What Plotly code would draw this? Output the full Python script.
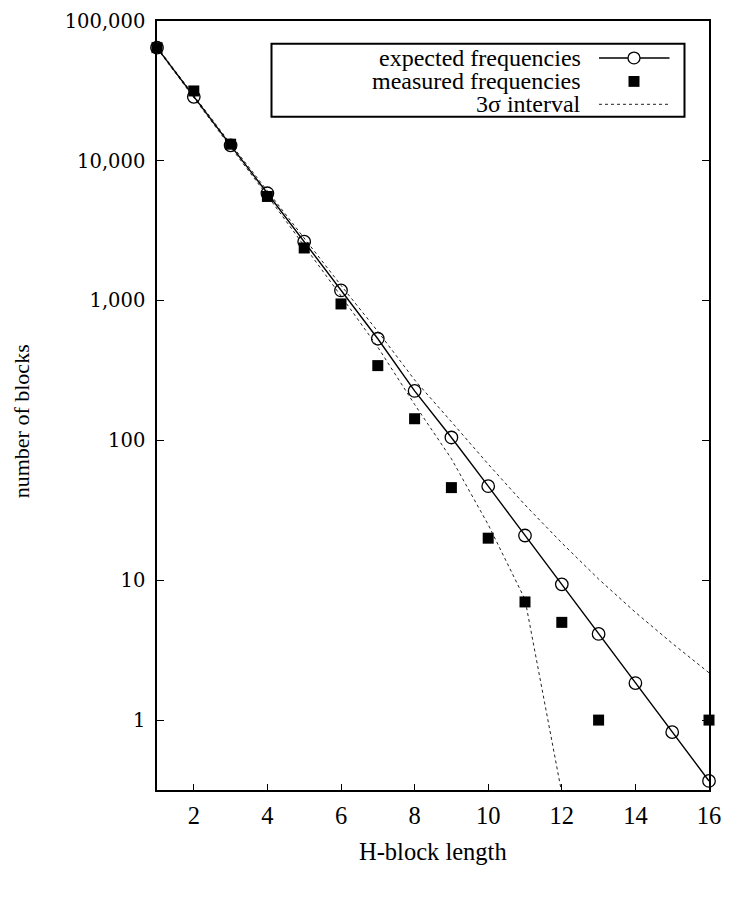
import plotly.graph_objects as go

# ---- data ----
block_length = list(range(1, 17))
expected = [64500, 28700, 12900, 5860, 2640, 1183, 534, 226, 105, 47.1, 20.9, 9.35, 4.13, 1.84, 0.82, 0.367]

measured_x = [1, 2, 3, 4, 5, 6, 7, 8, 9, 10, 11, 12, 13, 16]
measured = [64500, 31600, 13150, 5560, 2380, 947, 343, 143, 46, 20, 7, 5, 1, 1]

upper_x = list(range(1, 17))
upper_3sigma = [65260, 29210, 13240, 6090, 2794, 1286, 603, 271, 136, 67.7, 34.6, 18.5, 10.2, 5.9, 3.54, 2.18]

lower_x = list(range(1, 13))
lower_3sigma = [63740, 28190, 12560, 5630, 2486, 1080, 465, 181, 74, 25, 7.3, 0.3]

x_ticks = [2, 4, 6, 8, 10, 12, 14, 16]
y_ticks = [1, 10, 100, 1000, 10000, 100000]
y_ticktext = ["1", "10", "100", "1,000", "10,000", "100,000"]

legend_labels = ["expected frequencies", "measured frequencies", "3σ interval"]

SERIF = "Liberation Serif"

fig = go.Figure()

dot_line = dict(color="#222222", width=1, dash="dot")
fig.add_trace(go.Scatter(x=upper_x, y=upper_3sigma, mode="lines", line=dot_line, showlegend=False))
fig.add_trace(go.Scatter(x=lower_x, y=lower_3sigma, mode="lines", line=dot_line, showlegend=False))

fig.add_trace(go.Scatter(
    x=block_length, y=expected, mode="lines+markers",
    line=dict(color="black", width=1.4),
    marker=dict(symbol="circle-open", size=12.5, color="black", line=dict(width=1.3, color="black")),
    cliponaxis=False, showlegend=False))

fig.add_trace(go.Scatter(
    x=measured_x, y=measured, mode="markers",
    marker=dict(symbol="square", size=11, color="black"),
    cliponaxis=False, showlegend=False))

# page body has an 8px default margin: figure coordinates = screen coordinates - 8
OFF = 8
FW, FH = 750 - OFF, 899 - OFF
L, R, T, B = 157 - OFF, 709 - OFF, 10 - OFF, 790 - OFF
W, H = R - L, B - T
def px(x):
    return (x - OFF - L) / W
def py(y):
    return (B - (y - OFF)) / H

shapes = []
annotations = []
shapes.append(dict(type="rect", xref="paper", yref="paper",
                   x0=px(271.5), x1=px(684.5), y0=py(107), y1=py(33),
                   line=dict(color="black", width=2), fillcolor="white", layer="above"))
rows_y = [47.5, 71.3, 94.5]
for lab, ry in zip(legend_labels, rows_y):
    annotations.append(dict(xref="paper", yref="paper", x=px(583), y=py(ry),
                            xanchor="right", yanchor="middle", showarrow=False,
                            text=lab, font=dict(family=SERIF, size=24, color="black")))
# expected sample
shapes.append(dict(type="line", xref="paper", yref="paper", x0=px(599), x1=px(669.5),
                   y0=py(rows_y[0]), y1=py(rows_y[0]), line=dict(color="black", width=1.4), layer="above"))
shapes.append(dict(type="circle", xref="paper", yref="paper",
                   x0=px(628), x1=px(640), y0=py(rows_y[0] + 6), y1=py(rows_y[0] - 6),
                   line=dict(color="black", width=1.3), fillcolor="white", layer="above"))
# measured sample
shapes.append(dict(type="rect", xref="paper", yref="paper",
                   x0=px(628.5), x1=px(639.5), y0=py(rows_y[1] + 5.5), y1=py(rows_y[1] - 5.5),
                   line=dict(color="black", width=0), fillcolor="black", layer="above"))
# 3 sigma sample
shapes.append(dict(type="line", xref="paper", yref="paper", x0=px(599), x1=px(668),
                   y0=py(rows_y[2]), y1=py(rows_y[2]), line=dict(color="#222222", width=1, dash="dot"), layer="above"))

# axis titles
annotations.append(dict(xref="paper", yref="paper", x=px(433), y=py(852),
                        xanchor="center", yanchor="middle", showarrow=False,
                        text="H-block length", font=dict(family=SERIF, size=24.5, color="black")))
annotations.append(dict(xref="paper", yref="paper", x=px(21), y=py(416),
                        xanchor="center", yanchor="middle", showarrow=False, textangle=-90,
                        text="number of blocks", font=dict(family=SERIF, size=22, color="black")))

fig.update_layout(
    width=FW, height=FH,
    margin=dict(l=L, r=FW - R, t=T, b=FH - B, pad=0),
    paper_bgcolor="white", plot_bgcolor="white",
    shapes=shapes, annotations=annotations,
    showlegend=False,
)
fig.update_xaxes(
    range=[1, 16], tickvals=x_ticks, ticks="inside", ticklen=6, tickwidth=1.2, tickcolor="black",
    showline=True, linecolor="black", linewidth=1.5, mirror=True,
    showgrid=False, zeroline=False, ticklabelstandoff=3, ticklabeloverflow="allow",
    tickfont=dict(family=SERIF, size=24.5, color="black"))
fig.update_yaxes(
    type="log", range=[-0.5, 5], tickvals=y_ticks, ticktext=y_ticktext,
    ticks="inside", ticklen=7, tickwidth=1.2, tickcolor="black",
    showline=True, linecolor="black", linewidth=1.5, mirror="ticks",
    showgrid=False, zeroline=False, ticklabelstandoff=6, ticklabeloverflow="allow",
    tickfont=dict(family="DejaVu Serif", size=19.5, color="black"))

fig.write_html("out.html")
